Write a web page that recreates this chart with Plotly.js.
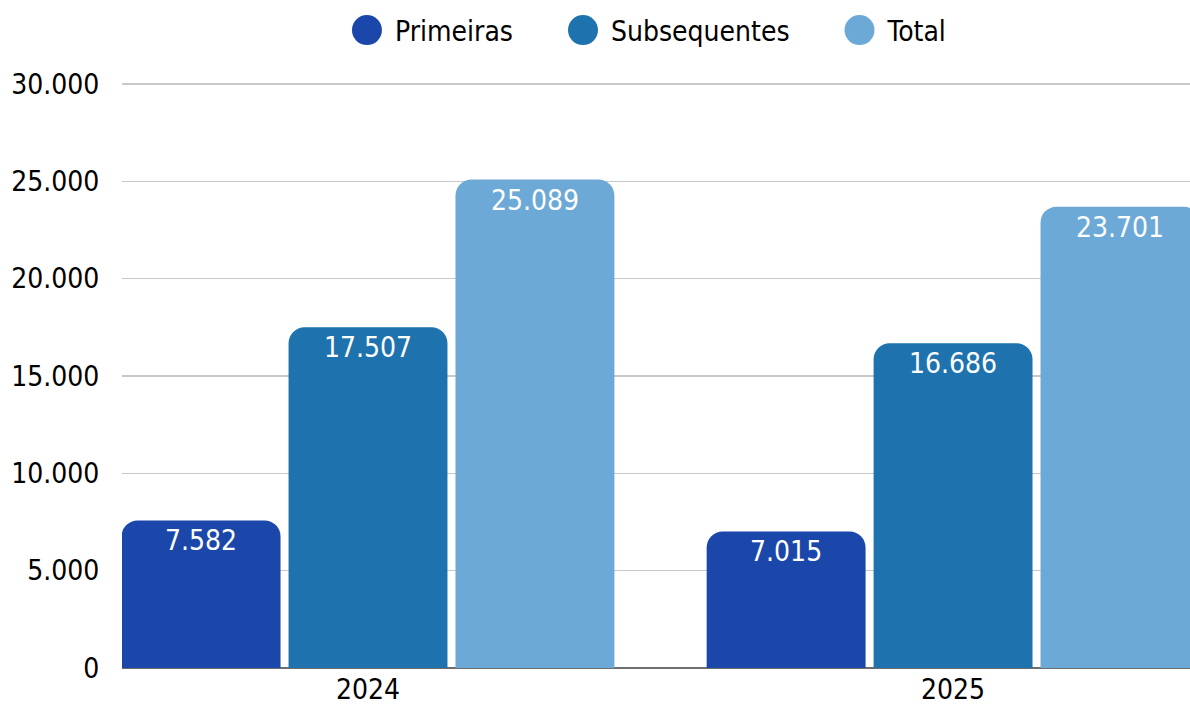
<!DOCTYPE html>
<html>
<head>
<meta charset="utf-8">
<script src="https://cdn.plot.ly/plotly-3.0.1.min.js"></script>
<style>html,body{margin:0;padding:0;background:#fff;}#chart{width:1190px;height:706px;}</style>
</head>
<body>
<div id="chart"></div>
<script>
const categories = ["2024", "2025"];
const seriesNames = ["Primeiras", "Subsequentes", "Total"];
const primeiras = [7582, 7015];
const subsequentes = [17507, 16686];
const total = [25089, 23701];
const yTicks = [0, 5000, 10000, 15000, 20000, 25000, 30000];

const colors = ["#1c47aa", "#1e73ae", "#6ca9d6"];
const FONT = "'DejaVu Sans Condensed', 'DejaVu Sans', sans-serif";
const FS = 28;
const values = [primeiras, subsequentes, total];
const legendLead = "\u00a0";
const legendTrail = "\u00a0\u00a0\u00a0\u00a0\u00a0\u2009";
const LEGEND_R = 15;

const traces = [];
// visible rounded bars
seriesNames.forEach((name, i) => {
  traces.push({
    type: "bar",
    name: name,
    x: categories,
    y: values[i],
    offsetgroup: "g" + i,
    marker: { color: colors[i], cornerradius: 16 },
    showlegend: false,
    hoverinfo: "skip"
  });
});
// transparent overlay bars carrying the value labels
seriesNames.forEach((name, i) => {
  traces.push({
    type: "bar",
    name: name + " label",
    x: categories,
    y: values[i],
    offsetgroup: "g" + i,
    marker: { color: "rgba(0,0,0,0)", cornerradius: 4 },
    texttemplate: "%{y:,}",
    textposition: "inside",
    insidetextanchor: "end",
    constraintext: "none",
    textfont: { color: "#ffffff", size: FS, family: FONT },
    showlegend: false,
    hoverinfo: "skip"
  });
});
// legend entries with circle symbols
seriesNames.forEach((name, i) => {
  traces.push({
    type: "scatter",
    mode: "markers",
    name: legendLead + name + (i < seriesNames.length - 1 ? legendTrail : ""),
    x: [null],
    y: [null],
    marker: { color: colors[i], symbol: "circle", size: 28 },
    showlegend: true,
    hoverinfo: "skip"
  });
});

const layout = {
  width: 1190,
  height: 706,
  margin: { l: 122, r: 0, t: 83, b: 38, pad: 0 },
  paper_bgcolor: "#ffffff",
  plot_bgcolor: "#ffffff",
  separators: ",.",
  font: { family: FONT, size: FS, color: "#000000" },
  barmode: "group",
  bargap: 0.144,
  bargroupgap: 0.048,
  showlegend: true,
  legend: {
    orientation: "h",
    x: 0.4934, xanchor: "center",
    y: 1.09, yanchor: "middle",
    font: { family: FONT, size: FS, color: "#000000" },
    traceorder: "normal"
  },
  xaxis: {
    type: "category",
    range: [-0.4205, 1.405],
    showgrid: false,
    showline: false,
    zeroline: false,
    ticks: "",
    ticklabelstandoff: 2,
    tickfont: { family: FONT, size: FS, color: "#000000" },
    fixedrange: true
  },
  yaxis: {
    range: [0, 30052],
    tickvals: yTicks,
    tickformat: ",d",
    showgrid: true,
    gridcolor: "#c8c8c8",
    gridwidth: 1.5,
    zeroline: true,
    zerolinecolor: "#6e6e6e",
    zerolinewidth: 2,
    showline: false,
    ticks: "outside",
    ticklen: 16,
    tickcolor: "rgba(0,0,0,0)",
    tickfont: { family: FONT, size: FS, color: "#000000" },
    fixedrange: true
  }
};

Plotly.newPlot("chart", traces, layout, { displayModeBar: false, staticPlot: true }).then((gd) => {
  const r = LEGEND_R;
  const d = "M" + r + ",0A" + r + "," + r + " 0 1,1 0,-" + r + "A" + r + "," + r + " 0 0,1 " + r + ",0Z";
  gd.querySelectorAll(".legend .legendpoints path.scatterpts").forEach((p) => {
    p.setAttribute("d", d);
  });
});
</script>
</body>
</html>
